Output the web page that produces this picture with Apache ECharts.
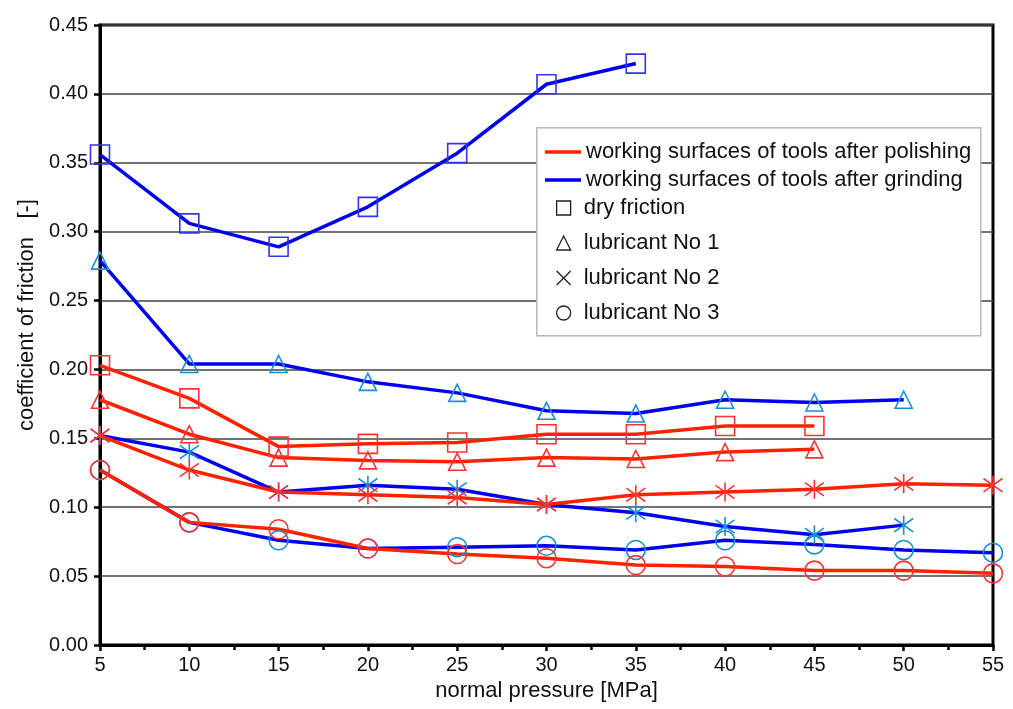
<!DOCTYPE html>
<html>
<head>
<meta charset="utf-8">
<script src="https://cdn.jsdelivr.net/npm/echarts@6/dist/echarts.min.js"></script>
<style>
  html, body { margin: 0; padding: 0; background: #fff; }
  #chart { width: 1013px; height: 709px; }
</style>
</head>
<body>
<div id="chart"></div>
<script>
// normal pressure [MPa]
const pressure = [5, 10, 15, 20, 25, 30, 35, 40, 45, 50, 55]

// after polishing (red)
const polDry  = [0.203, 0.179, 0.144, 0.146, 0.147, 0.153, 0.153, 0.159, 0.159]
const polLub1 = [0.178, 0.153, 0.136, 0.134, 0.133, 0.136, 0.135, 0.140, 0.142]
const polLub2 = [0.152, 0.127, 0.111, 0.109, 0.107, 0.102, 0.109, 0.111, 0.113, 0.117, 0.116]
const polLub3 = [0.127, 0.089, 0.084, 0.070, 0.066, 0.063, 0.058, 0.057, 0.054, 0.054, 0.052]

// after grinding (blue)
const grdDry  = [0.356, 0.306, 0.289, 0.318, 0.357, 0.407, 0.422]
const grdLub1 = [0.279, 0.204, 0.204, 0.191, 0.183, 0.170, 0.168, 0.178, 0.176, 0.178]
const grdLub2 = [0.152, 0.140, 0.111, 0.116, 0.113, 0.102, 0.096, 0.086, 0.080, 0.087]
const grdLub3 = [0.127, 0.089, 0.076, 0.070, 0.071, 0.072, 0.069, 0.076, 0.073, 0.069, 0.067]

const legendLines = ["working surfaces of tools after polishing", "working surfaces of tools after grinding"]
const legendMarks = ["dry friction", "lubricant No 1", "lubricant No 2", "lubricant No 3"]

const RED = '#ff2200'
const BLUE = '#0000ee'
const RED_MK = '#ff3333'
const BLUE_SQ = '#3535ee'
const BLUE_MK = '#1a8fd0'

const starPath = 'path://M10,0L10,20M3,3L17,17M3,17L17,3'
const symbols = {
    dry: 'rect',
    lub1: 'triangle',
    lub2: starPath,
    lub3: 'circle'
}
const sizes = {dry: 19, lub1: 17, lub2: 19, lub3: 19}

function pairs(vals) {
    return vals.map((v, i) => [pressure[i], v])
}

function makeSeries(name, vals, lineColor, markColor, kind) {
    return {
        name: name,
        type: 'line',
        data: pairs(vals),
        symbol: symbols[kind],
        symbolSize: sizes[kind],
        showAllSymbol: true,
        lineStyle: {color: lineColor, width: 3.5},
        itemStyle: {color: 'transparent', borderColor: markColor, borderWidth: 1.6},
        emphasis: {disabled: true},
        z: 3
    }
}

let series = [
    makeSeries('g-dry', grdDry, BLUE, BLUE_SQ, 'dry'),
    makeSeries('g-lub1', grdLub1, BLUE, BLUE_MK, 'lub1'),
    makeSeries('g-lub2', grdLub2, BLUE, BLUE_MK, 'lub2'),
    makeSeries('g-lub3', grdLub3, BLUE, BLUE_MK, 'lub3'),
    makeSeries('p-dry', polDry, RED, RED_MK, 'dry'),
    makeSeries('p-lub1', polLub1, RED, RED_MK, 'lub1'),
    makeSeries('p-lub2', polLub2, RED, RED_MK, 'lub2'),
    makeSeries('p-lub3', polLub3, RED, RED_MK, 'lub3')
]

// empty series only for the legend entries
const linePath = 'path://M0,0H36V3.5H0Z'
series.push({name: legendLines[0], type: 'line', data: [], color: RED})
series.push({name: legendLines[1], type: 'line', data: [], color: BLUE})
legendMarks.forEach(n => series.push({name: n, type: 'line', data: [], color: '#222'}))

const lineLegendData = [
    {name: legendLines[0], icon: linePath, itemStyle: {color: RED, borderWidth: 0}},
    {name: legendLines[1], icon: linePath, itemStyle: {color: BLUE, borderWidth: 0}}
]
// the legend shows the cross without the vertical stroke
const legendIcons = ['rect', 'triangle', 'path://M0,0L10,10M0,10L10,0', 'circle']
const markLegendData = legendMarks.map((n, i) => ({
    name: n,
    icon: legendIcons[i],
    itemStyle: {color: 'transparent', borderColor: '#222', borderWidth: 1.3}
}))

const legendText = {fontSize: 22, color: '#111', lineHeight: 22}

var chart = echarts.init(document.getElementById('chart'), null, {renderer: 'canvas'})

var option = {
    animation: false,
    backgroundColor: '#fff',
    textStyle: {fontFamily: 'Liberation Sans, Arial, sans-serif'},
    grid: {
        left: 100, right: 20, top: 25, bottom: 64,
        show: true, borderColor: '#000', borderWidth: 3
    },
    graphic: [{
        type: 'rect',
        left: 536, top: 127,
        shape: {width: 444, height: 208},
        style: {fill: '#fff', stroke: '#b8b8b8', lineWidth: 1.5},
        z: 10
    }],
    legend: [{
        data: lineLegendData,
        orient: 'vertical',
        left: 545, top: 141,
        padding: 0,
        itemWidth: 36, itemHeight: 14,
        itemGap: 6,
        selectedMode: false,
        z: 20,
        textStyle: legendText
    }, {
        data: markLegendData,
        orient: 'vertical',
        left: 556, top: 197,
        padding: 0,
        itemWidth: 14, itemHeight: 14,
        itemGap: 13,
        selectedMode: false,
        z: 20,
        textStyle: Object.assign({padding: [0, 0, 0, 8]}, legendText)
    }],
    xAxis: {
        type: 'value',
        min: 5, max: 55, interval: 5,
        name: 'normal pressure [MPa]',
        nameLocation: 'middle',
        nameGap: 34,
        nameTextStyle: {fontSize: 22, color: '#111'},
        axisLine: {show: true, lineStyle: {color: '#000', width: 3}},
        axisTick: {show: true, length: 6, lineStyle: {color: '#000', width: 2.5}},
        minorTick: {show: true, splitNumber: 2, length: 5, lineStyle: {color: '#000', width: 2.5}},
        axisLabel: {fontSize: 20, color: '#111', margin: 10},
        splitLine: {show: false}
    },
    yAxis: {
        type: 'value',
        min: 0, max: 0.45, interval: 0.05,
        name: 'coefficient of friction   [-]',
        nameLocation: 'middle',
        nameGap: 61,
        nameTextStyle: {fontSize: 22, color: '#111', padding: [0, 0, 0, 40]},
        axisLine: {show: true, lineStyle: {color: '#000', width: 3}},
        axisTick: {show: true, length: 6, lineStyle: {color: '#000', width: 2.5}},
        axisLabel: {
            fontSize: 20, color: '#111', margin: 12,
            formatter: v => v.toFixed(2)
        },
        splitLine: {show: true, lineStyle: {color: '#444', width: 1.5}}
    },
    series: series
}

chart.setOption(option)
</script>
</body>
</html>
